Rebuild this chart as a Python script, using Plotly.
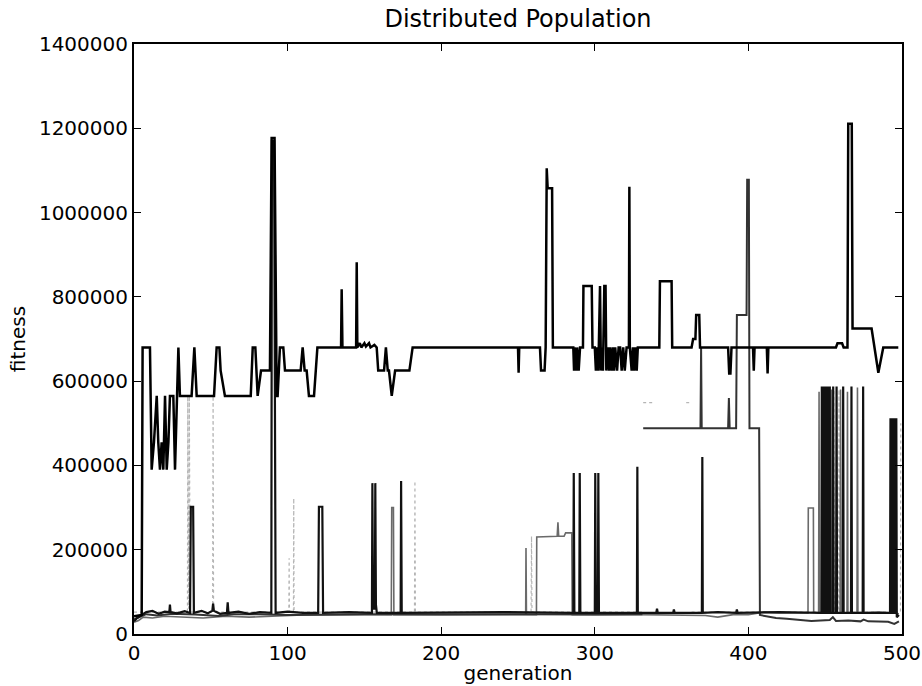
import plotly.graph_objects as go

# ---- data (generation, fitness) ----
best = [(0, 42000), (5, 45000), (5.6, 680000), (10.4, 680000), (11.5, 390000), (13, 455000),
        (14.8, 565000), (15.8, 455000), (16.9, 390000), (18, 455000), (19.1, 390000), (20.2, 565000),
        (21.3, 390000), (22.4, 455000), (23.4, 565000), (25.6, 565000), (26.7, 390000), (27.8, 565000),
        (28.9, 680000), (29.9, 565000), (37.5, 565000), (39.3, 680000), (40.8, 565000), (52.1, 565000),
        (53.8, 680000), (55.6, 680000), (56.4, 625000), (59.2, 565000), (76, 565000), (77.3, 680000),
        (79, 680000), (80.5, 565000), (82.7, 625000), (88.5, 625000), (89.6, 1177000), (91.5, 1177000),
        (92.9, 565000), (93.5, 565000), (95, 680000), (97.2, 680000), (98.3, 625000), (108.5, 625000),
        (109.8, 680000), (111.1, 625000), (112.4, 625000), (113.9, 565000), (117.2, 565000),
        (119.4, 680000), (134.8, 680000), (135.2, 818000), (135.7, 680000), (144.6, 680000),
        (145, 882000), (145.4, 680000), (147, 690000), (148, 680000), (150, 690000), (151, 682000),
        (153, 690000), (154, 680000), (156.5, 686000), (158, 680000), (159, 625000), (162.8, 625000),
        (164, 680000), (165.2, 625000), (166, 625000), (167.8, 565000), (170, 625000), (179.3, 625000),
        (181.4, 680000), (250, 680000), (250.4, 620000), (250.8, 680000), (264.3, 680000),
        (265, 625000), (267.3, 625000), (268, 680000), (268.7, 1105000), (269.3, 1058000),
        (272.2, 1058000), (272.7, 680000), (286, 680000), (286.5, 625000), (287, 680000),
        (288, 625000), (288.5, 680000), (289.5, 625000), (290.4, 680000), (292.3, 680000),
        (292.6, 826000), (298, 826000), (298.5, 680000), (300, 680000), (300.7, 625000),
        (301.5, 680000), (302.3, 625000), (303.4, 826000), (304, 625000), (304.5, 680000),
        (305.3, 625000), (306.2, 826000), (307, 826000), (307.5, 625000), (308.5, 680000),
        (309.3, 625000), (310, 680000), (311, 625000), (311.8, 680000), (312.5, 625000),
        (313.3, 680000), (314.5, 625000), (315.5, 680000), (316.5, 680000), (317.5, 625000),
        (318.5, 680000), (319.5, 625000), (320.7, 680000), (322.2, 680000), (322.5, 1061000),
        (322.8, 680000), (324, 625000), (324.8, 680000), (325.6, 625000), (326.4, 680000),
        (327.3, 625000), (328, 680000), (342, 680000), (342.4, 837000), (350, 837000),
        (350.4, 680000), (363, 680000), (364, 700000), (365.5, 700000), (366, 757000),
        (368, 757000), (368.5, 680000), (386.8, 680000), (387.5, 618000), (388.3, 618000),
        (389, 680000), (403, 680000), (403.5, 625000), (404, 680000), (412, 680000),
        (412.5, 618000), (413, 680000), (457, 680000), (458, 690000), (461, 690000),
        (462, 680000), (464.5, 680000), (465, 1211000), (467.3, 1211000), (467.8, 725000),
        (480.2, 725000), (484.6, 620000), (487.8, 680000), (497.6, 680000)]

island2 = [(0, 30000), (2, 38000), (5, 45000), (8, 52000), (12, 55000), (16, 48000), (20, 53000),
           (23, 52000), (23.4, 70000), (23.8, 52000), (28, 49000), (33, 54000), (36.5, 50000),
           (37, 302000), (38.5, 302000), (39, 50000), (44, 55000), (48, 49000), (51, 55000),
           (51.5, 72000), (52, 55000), (56, 48000), (60.5, 50000), (61, 75000), (61.5, 50000),
           (68, 53000), (75, 48000), (82, 52000), (89.4, 50000), (89.8, 1170000), (91.2, 1170000),
           (92.2, 50000), (100, 53000), (110, 50000), (119.9, 50000), (120.4, 302000),
           (122.6, 302000), (123.1, 50000), (140, 52000), (154.9, 50000), (155.2, 358000),
           (155.6, 60000), (156.8, 60000), (157.1, 358000), (157.5, 70000), (158.1, 50000),
           (173.6, 50000), (173.9, 363000), (174.3, 50000), (200, 51000), (240, 52000),
           (286, 50000), (286.3, 382000), (286.7, 50000), (289.9, 50000), (290.2, 382000),
           (290.6, 50000), (300, 50000), (300.3, 382000), (300.7, 50000), (302, 50000),
           (302.3, 382000), (302.7, 50000), (327.4, 50000), (327.7, 397000), (328, 50000),
           (340, 50000), (340.5, 60000), (341, 50000), (351, 50000), (351.5, 58000), (352, 50000),
           (369.7, 50000), (370, 420000), (370.3, 50000), (380, 52000), (392, 50000),
           (392.5, 58000), (393, 50000), (420, 52000), (447.5, 50000), (447.8, 587000),
           (448.1, 50000), (448.5, 587000), (448.8, 50000), (449.5, 50000), (449.8, 587000),
           (450.1, 50000), (450.5, 50000), (450.8, 587000), (451.1, 50000), (451.7, 50000),
           (452, 587000), (452.3, 50000), (452.7, 50000), (453, 587000), (453.3, 50000),
           (454.9, 50000), (455.2, 587000), (455.5, 50000), (457.1, 50000), (457.4, 587000),
           (457.7, 50000), (461.4, 50000), (461.7, 587000), (462, 50000), (466.8, 50000),
           (467.1, 587000), (467.4, 50000), (474.4, 50000), (474.7, 587000), (475, 50000),
           (492.2, 50000), (492.5, 512000), (492.8, 50000), (493.3, 50000), (493.6, 512000),
           (493.9, 50000), (494.7, 50000), (495, 512000), (495.3, 50000), (496, 50000),
           (496.3, 512000), (496.6, 40000), (498, 45000)]

island3 = [(0, 35000), (3, 40000), (8, 47000), (15, 44000), (25, 48000), (40, 46000),
           (55, 43000), (65, 47000), (80, 47000), (100, 45000), (150, 47000), (200, 46000),
           (250, 47000), (300, 46000), (331, 47000), (331.2, None), (331.5, 488000),
           (368.8, 488000), (369.2, 680000), (369.6, 488000), (386.8, 488000), (387.3, 560000),
           (387.8, 488000), (392, 488000), (392.5, 757000), (398.8, 757000), (399.2, 1078000),
           (400.3, 1078000), (400.7, 488000), (407, 488000), (407.5, 45000), (412, 42000),
           (418, 38000), (425, 36000), (433, 34000), (441, 31000), (453, 33000), (455, 40000),
           (457, 31000), (465, 32000), (473, 30000), (475, 34000), (478, 30000), (491, 29000),
           (495, 24000), (498, 30000)]

island4 = [(0, 28000), (3, 32000), (6, 40000), (12, 38000), (20, 42000), (30, 40000),
           (45, 38000), (60, 42000), (75, 40000), (90, 42000), (110, 45000), (150, 46000),
           (167.5, 46000), (167.8, 300000), (168.9, 300000), (169.2, 46000), (255, 46000),
           (255.2, 204000), (255.5, 46000), (262, 46000), (262.2, 230000), (275.5, 232000),
           (276, 265000), (276.5, 232000), (280, 232000), (281, 240000), (285, 240000),
           (285.3, 46000), (330, 46000), (372, 44000), (380, 40000), (390, 46000), (400, 46000),
           (410, 52000), (420, 50000), (438.8, 50000), (439, 299000), (442.3, 299000),
           (442.5, 52000), (445.7, 50000), (446, 575000), (446.3, 50000), (453.8, 50000),
           (454.1, 580000), (454.4, 50000), (459.7, 50000), (460, 580000), (460.3, 50000),
           (464.2, 50000), (464.5, 575000), (464.8, 50000), (470.7, 50000), (471, 585000),
           (471.3, 50000), (485, 52000), (493.8, 50000), (494.2, 500000), (494.5, 50000),
           (498, 48000)]

island5 = [(0, 52000), (34.8, 52000), (35, 565000), (35.6, 60000), (36, 565000), (36.6, 52000),
           (51.2, 52000), (51.5, 565000), (51.8, 52000), (100.8, 52000), (101, 180000),
           (101.2, 52000), (103.8, 52000), (104, 322000), (104.2, 52000), (182.6, 52000),
           (182.9, 363000), (183.2, 52000), (258.5, 52000), (258.8, 232000), (259.1, 52000),
           (331, 52000), (331.2, None), (331.5, 549000), (339, 549000), (339.2, None),
           (359.5, 549000), (362.6, 549000), (362.8, None), (363, 52000), (455.4, 52000),
           (455.6, 580000), (455.9, 52000), (458.8, 52000), (459, 580000), (459.3, 52000),
           (499, 52000), (499.2, 500000)]

x_ticks = [0, 100, 200, 300, 400, 500]
y_ticks = [0, 200000, 400000, 600000, 800000, 1000000, 1200000, 1400000]

series = [
    (island5, "#b4b4b4", 1.2, "dot"),
    (island4, "#6a6a6a", 1.6, "solid"),
    (island3, "#333333", 2.0, "solid"),
    (island2, "#111111", 2.2, "solid"),
    (best, "#000000", 2.5, "solid"),
]

fig = go.Figure()
for data, color, width, dash in series:
    xs = [p[0] for p in data]
    ys = [p[1] for p in data]
    fig.add_trace(go.Scatter(x=xs, y=ys, mode="lines",
                             line=dict(color=color, width=width, dash=dash),
                             showlegend=False, hoverinfo="skip"))

font = "DejaVu Sans, Arial, sans-serif"
axis_common = dict(showgrid=False, zeroline=False, showline=True, linecolor="black",
                   linewidth=2, mirror="allticks", ticks="inside", ticklen=7,
                   tickwidth=1.2, tickcolor="black", automargin=False,
                   tickfont=dict(family=font, size=20, color="black"))

fig.update_layout(
    width=922, height=686,
    margin=dict(l=134, r=20, t=44, b=52, autoexpand=False),
    paper_bgcolor="white", plot_bgcolor="white",
    title=dict(text="Distributed Population", x=0.5, xref="paper", xanchor="center",
               y=1 - 19 / 686, yref="container", yanchor="middle",
               font=dict(family=font, size=24, color="black")),
    xaxis=dict(range=[0, 500], tickvals=x_ticks, ticktext=[str(v) for v in x_ticks],
               title=dict(text="generation", standoff=2,
                          font=dict(family=font, size=20, color="black")),
               **axis_common),
    yaxis=dict(range=[0, 1400000], tickvals=y_ticks, ticktext=[str(v) for v in y_ticks],
               title=dict(text="fitness", standoff=8,
                          font=dict(family=font, size=20, color="black")),
               **axis_common),
)

fig.write_html("out.html", config={"displayModeBar": False},
               post_script="document.body.style.margin='0';")
